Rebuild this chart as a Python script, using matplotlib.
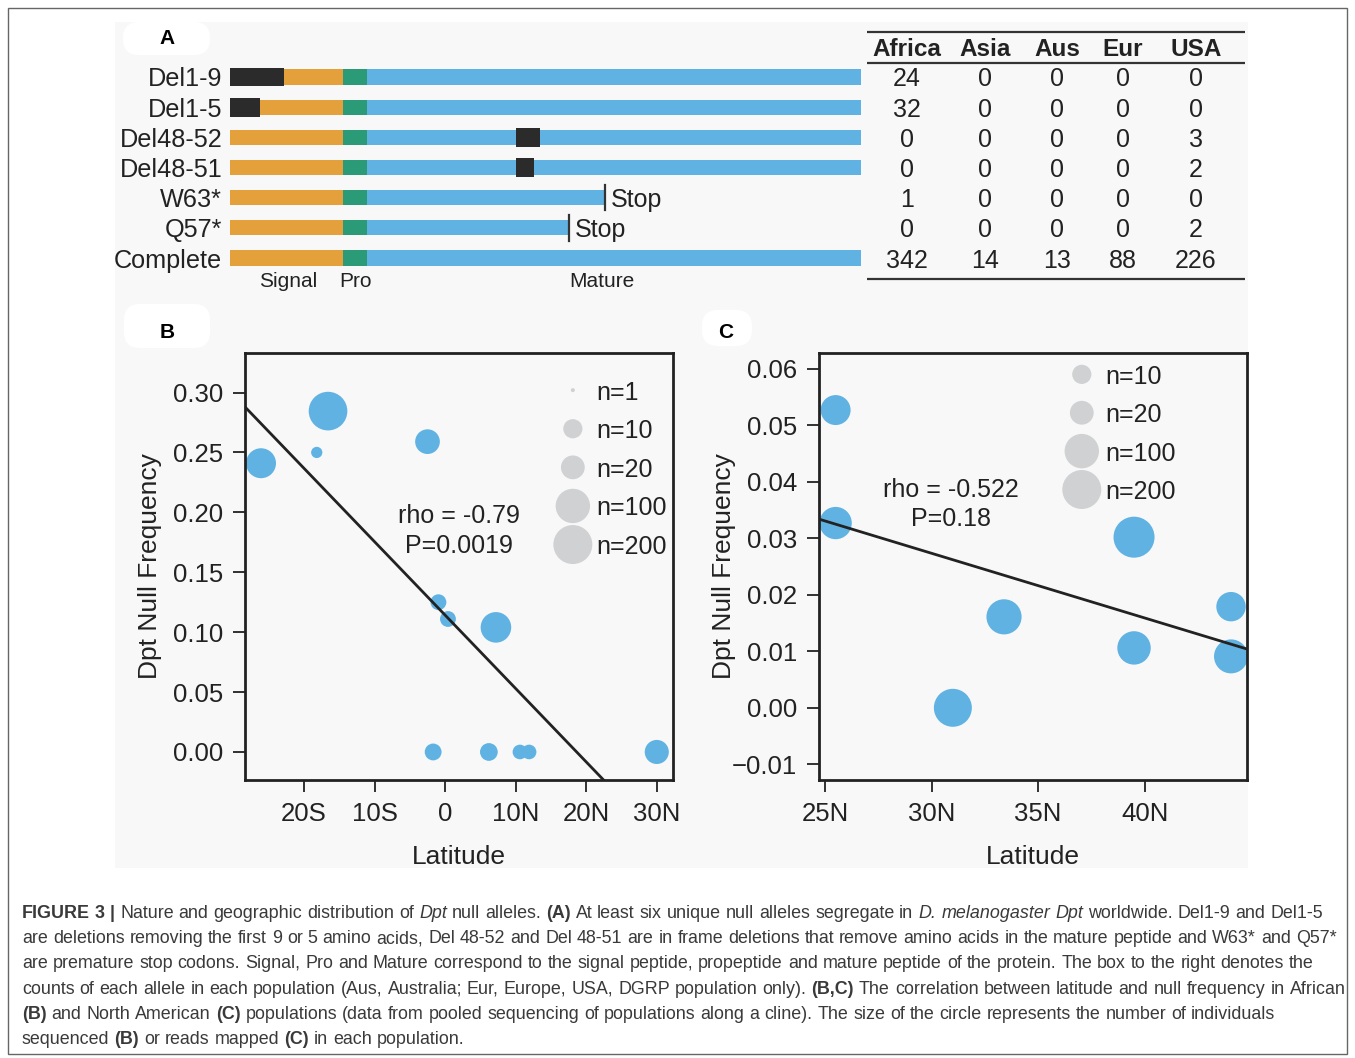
import matplotlib
matplotlib.use("Agg")
import matplotlib.pyplot as plt
import numpy as np
from matplotlib import font_manager, ticker
from matplotlib.patches import Rectangle, FancyBboxPatch

plt.rcParams["font.family"] = ["Liberation Sans", "DejaVu Sans"]
plt.rcParams["text.color"] = "#222222"

# ---- panel A: allele structure + counts table
alleles = ["Del1-9", "Del1-5", "Del48-52", "Del48-51", "W63*", "Q57*", "Complete"]
prot_len = 106
signal_end = 19
pro_end = 23
deletions = {"Del1-9": (0, 9), "Del1-5": (0, 5), "Del48-52": (48, 52), "Del48-51": (48, 51)}
stops = {"W63*": 63, "Q57*": 57}
pops = ["Africa", "Asia", "Aus", "Eur", "USA"]
counts = [
    [24, 0, 0, 0, 0],
    [32, 0, 0, 0, 0],
    [0, 0, 0, 0, 3],
    [0, 0, 0, 0, 2],
    [1, 0, 0, 0, 0],
    [0, 0, 0, 0, 2],
    [342, 14, 13, 88, 226],
]

# ---- panel B: African populations
lat_b = [-26.1, -16.6, -18.2, -2.5, -0.95, 0.4, 7.2, -1.7, 6.2, 10.6, 11.9, 30.0]
freq_b = [0.241, 0.2845, 0.250, 0.259, 0.125, 0.111, 0.104, 0.0, 0.0, 0.0, 0.0, 0.0]
n_b = [51, 190, 3, 23, 6, 6, 56, 7, 8, 5, 5, 21]
fit_b = (0.1142, -0.006126)  # intercept, slope
stats_b = ["rho = -0.79", "P=0.0019"]
legend_b = [1, 10, 20, 100, 200]

# ---- panel C: North American populations
lat_c = [25.5, 25.5, 31.0, 33.4, 39.5, 39.5, 44.05, 44.05]
freq_c = [0.0527, 0.0327, 0.0, 0.0161, 0.0302, 0.0106, 0.0179, 0.0091]
n_c = [51, 73, 172, 112, 272, 86, 47, 94]
fit_c = (0.0617, -0.001145)
stats_c = ["rho = -0.522", "P=0.18"]
legend_c = [10, 20, 100, 200]

caption = [
    [("FIGURE 3 | ", "b"), ("Nature and geographic distribution of ", "r"), ("Dpt", "i"),
     (" null alleles. ", "r"), ("(A)", "b"), (" At least six unique null alleles segregate in ", "r"),
     ("D. melanogaster Dpt", "i"), (" worldwide. Del1-9 and Del1-5", "r")],
    [("are deletions removing the first 9 or 5 amino acids, Del 48-52 and Del 48-51 are in frame "
      "deletions that remove amino acids in the mature peptide and W63* and Q57*", "r")],
    [("are premature stop codons. Signal, Pro and Mature correspond to the signal peptide, propeptide "
      "and mature peptide of the protein. The box to the right denotes the", "r")],
    [("counts of each allele in each population (Aus, Australia; Eur, Europe, USA, DGRP population only). ", "r"),
     ("(B,C)", "b"), (" The correlation between latitude and null frequency in African", "r")],
    [("(B)", "b"), (" and North American ", "r"), ("(C)", "b"),
     (" populations (data from pooled sequencing of populations along a cline). The size of the circle "
      "represents the number of individuals", "r")],
    [("sequenced ", "r"), ("(B)", "b"), (" or reads mapped ", "r"), ("(C)", "b"), (" in each population.", "r")],
]

ORANGE = "#e4a13b"
GREEN = "#2a9b76"
BLUE = "#60b2e2"
DARK = "#2b2b2b"
GRAY = "#cfd1d2"
BG = "#f8f8f8"
INK = "#222222"

W, H = 1355, 1058
fig = plt.figure(figsize=(W / 100, H / 100), dpi=100)


def box(x0, y0, x1, y1):
    return [x0 / W, 1 - y1 / H, (x1 - x0) / W, (y1 - y0) / H]


def area(n):
    r = 2 + 7.6 * np.log10(np.asarray(n, dtype=float))
    return (2 * r * 0.72) ** 2


# background layer in pixel units
ax0 = fig.add_axes([0, 0, 1, 1], zorder=0)
ax0.set_xlim(0, W)
ax0.set_ylim(H, 0)
ax0.axis("off")
ax0.add_patch(Rectangle((115, 22), 1133, 846, fc=BG, ec="none"))
ax0.add_patch(Rectangle((8, 8), 1339, 1046, fill=False, ec="#666666", lw=1.0))
for (x, y, w, h), letter, (tx, ty) in [((123, 22, 87, 33), "A", (167, 39)),
                                       ((124, 304, 86, 44), "B", (167, 332)),
                                       ((702, 310, 50, 36), "C", (726, 332))]:
    ax0.add_patch(FancyBboxPatch((x, y), w, h, boxstyle="round,pad=0,rounding_size=16",
                                 fc="white", ec="none"))
    ax0.text(tx, ty, letter, ha="center", va="center", fontsize=15, fontweight="bold", color="black")

# panel A bars
axA = fig.add_axes(box(230, 28.7, 861, 288.2), zorder=1)
for i, name in enumerate(alleles):
    end = stops.get(name, prot_len)
    axA.barh(i, signal_end, left=0, height=0.5, color=ORANGE)
    axA.barh(i, pro_end - signal_end, left=signal_end, height=0.5, color=GREEN)
    axA.barh(i, end - pro_end, left=pro_end, height=0.5, color=BLUE)
    if name in deletions:
        s, e = deletions[name]
        axA.barh(i, e - s, left=s, height=0.62, color=DARK)
    if name in stops:
        axA.plot([end, end], [i - 0.42, i + 0.42], color="#333333", lw=1.6)
        axA.text(end + 0.9, i, "Stop", ha="left", va="center_baseline", fontsize=18)
    axA.text(-1.3, i, name, ha="right", va="center_baseline", fontsize=18.2)
for lab, xpos in zip(["Signal", "Pro", "Mature"], [9.7, 21.0, 62.5]):
    axA.text(xpos, 6.7, lab, ha="center", va="center_baseline", fontsize=15)
axA.set_xlim(0, prot_len)
axA.set_ylim(7.0, -1.6)
axA.axis("off")

# counts table
axT = fig.add_axes(box(867, 28.7, 1245, 288.2), zorder=1)
axT.set_xlim(0, 1)
axT.set_ylim(7.0, -1.6)
axT.axis("off")
col_x = [0.106, 0.312, 0.503, 0.677, 0.870]
for yl in [-1.49, -0.46, 6.70]:
    axT.plot([0, 1], [yl, yl], color="#333333", lw=1.6)
for cx, p in zip(col_x, pops):
    axT.text(cx, -0.98, p, ha="center", va="center_baseline", fontsize=17.5, fontweight="bold")
for i, row in enumerate(counts):
    for cx, v in zip(col_x, row):
        axT.text(cx, i, str(v), ha="center", va="center_baseline", fontsize=18)


def scatter_panel(ax, lat, freq, n, fit, stats, legend_n, xlim, ylim, xt, xtl, yt, fmt,
                  stats_pos, leg_x, leg_y0, leg_dy):
    ax.set_facecolor("none")
    ax.scatter(lat, freq, s=area(n), color=BLUE, edgecolors="none", zorder=2)
    xs = np.array(xlim)
    ax.plot(xs, fit[0] + fit[1] * xs, color=INK, lw=2, zorder=3)
    ax.set_xlim(*xlim)
    ax.set_ylim(*ylim)
    ax.set_xticks(xt)
    ax.set_xticklabels(xtl)
    ax.set_yticks(yt)
    ax.yaxis.set_major_formatter(ticker.FuncFormatter(lambda v, _: fmt.format(v).replace("-", "\u2212")))
    ax.tick_params(direction="out", length=8.5, width=1.3, pad=7, labelsize=18.5,
                   color=INK, labelcolor=INK)
    for sp in ax.spines.values():
        sp.set_linewidth(2)
        sp.set_color(INK)
    ax.text(stats_pos[0], stats_pos[1], stats[0], transform=ax.transAxes,
            ha="center", va="center_baseline", fontsize=18)
    ax.text(stats_pos[0], stats_pos[1] - 0.07, stats[1], transform=ax.transAxes,
            ha="center", va="center_baseline", fontsize=18)
    for k, nn in enumerate(legend_n):
        yy = leg_y0 - leg_dy * k
        ax.scatter([leg_x], [yy], s=area([nn]), color=GRAY, edgecolors="none",
                   transform=ax.transAxes, clip_on=False, zorder=2)
        ax.text(leg_x + 0.055, yy, "n=%d" % nn, transform=ax.transAxes,
                ha="left", va="center_baseline", fontsize=18)
    ax.text(-0.222, 0.5, "Dpt Null Frequency", transform=ax.transAxes, rotation=90,
            ha="center", va="center", fontsize=19)
    ax.text(0.5, -0.18, "Latitude", transform=ax.transAxes, ha="center", va="center", fontsize=19)


axB = fig.add_axes(box(245, 353, 673, 780), zorder=1)
scatter_panel(axB, lat_b, freq_b, n_b, fit_b, stats_b, legend_b,
              (-28.37, 32.3), (-0.0234, 0.333),
              [-20, -10, 0, 10, 20, 30], ["20S", "10S", "0", "10N", "20N", "30N"],
              np.arange(0, 0.31, 0.05), "{:.2f}", (0.50, 0.625), 0.766, 0.913, 0.0904)

axC = fig.add_axes(box(819, 353, 1247, 780), zorder=1)
scatter_panel(axC, lat_c, freq_c, n_c, fit_c, stats_c, legend_c,
              (24.72, 44.8), (-0.01278, 0.0628),
              [25, 30, 35, 40], ["25N", "30N", "35N", "40N"],
              np.arange(-0.01, 0.061, 0.01), "{:.2f}", (0.309, 0.686), 0.614, 0.950, 0.0899)

# caption, laid out word by word
names = {f.name for f in font_manager.fontManager.ttflist}
cap_family = "Liberation Sans Narrow" if "Liberation Sans Narrow" in names else "Liberation Sans"
styles = {"r": dict(fontweight="normal", fontstyle="normal"),
          "b": dict(fontweight="bold", fontstyle="normal"),
          "i": dict(fontweight="normal", fontstyle="italic")}
renderer = fig.canvas.get_renderer()


def measure(s, st, fs):
    t = ax0.text(0, 0, s, fontsize=fs, family=cap_family, **styles[st])
    w = t.get_window_extent(renderer=renderer).width
    t.remove()
    return w


def tokens_of(line):
    out, gap = [], False
    for txt, st in line:
        for k, w in enumerate(txt.split(" ")):
            if k > 0:
                gap = True
            if w:
                out.append((w, st, gap))
                gap = False
    return out


def line_width(toks, fs):
    sp = measure("x x", "r", fs) - measure("xx", "r", fs)
    return sum(measure(w, st, fs) + (sp if g else 0) for w, st, g in toks)


ref_w = line_width(tokens_of(caption[1]), 10)
cap_fs = 10 * 1318 / ref_w
sp = measure("x x", "r", cap_fs) - measure("xx", "r", cap_fs)
for li, line in enumerate(caption):
    x = 22
    yb = 918 + 25.2 * li
    for w, st, g in tokens_of(line):
        if g:
            x += sp
        ax0.text(x, yb, w, fontsize=cap_fs, family=cap_family, va="baseline", ha="left",
                 color="#3a3a3a", **styles[st])
        x += measure(w, st, cap_fs)

fig.savefig("out.png", dpi=100, facecolor="white")
